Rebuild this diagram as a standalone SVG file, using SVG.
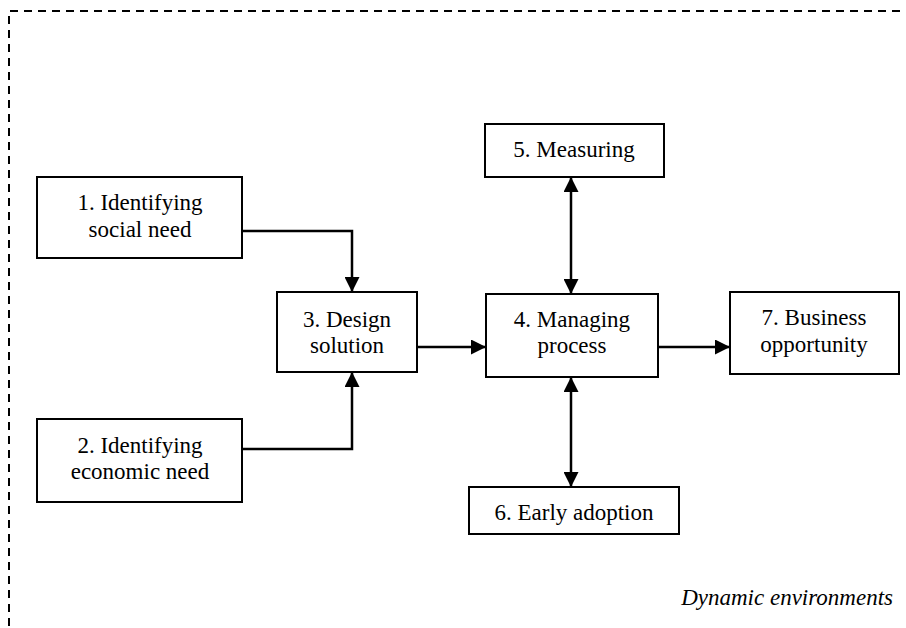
<svg xmlns="http://www.w3.org/2000/svg" width="906" height="628" viewBox="0 0 906 628">
<style>
.box{fill:#fff;stroke:#000;stroke-width:2}
.t{font-family:"Liberation Serif","Times New Roman",serif;font-size:23px;fill:#000;text-anchor:middle}
.c{fill:none;stroke:#000;stroke-width:2.5}
.frame{fill:none;stroke:#000;stroke-width:2;stroke-dasharray:8 6}
</style>
<defs>
<marker id="ah" markerUnits="userSpaceOnUse" markerWidth="15" markerHeight="15" refX="14" refY="7.5" orient="auto-start-reverse" viewBox="0 0 15 15">
<path d="M0,0 L15,7.5 L0,15 z" fill="#000"/>
</marker>
</defs>
<path class="frame" d="M900,11 H9 V628"/>
<g id="connectors">
<path class="c" d="M242,231 H352 V291" marker-end="url(#ah)"/>
<path class="c" d="M242,449 H352 V373" marker-end="url(#ah)"/>
<path class="c" d="M417,347 H485" marker-end="url(#ah)"/>
<path class="c" d="M658,347 H729" marker-end="url(#ah)"/>
<path class="c" d="M571,178 V293" marker-start="url(#ah)" marker-end="url(#ah)"/>
<path class="c" d="M571,378 V486" marker-start="url(#ah)" marker-end="url(#ah)"/>
</g>
<g id="n1"><rect class="box" x="37" y="177" width="205" height="81"/><text class="t" x="140" y="210">1. Identifying</text><text class="t" x="140" y="237">social need</text></g>
<g id="n2"><rect class="box" x="37" y="419" width="205" height="83"/><text class="t" x="140" y="453">2. Identifying</text><text class="t" x="140" y="479">economic need</text></g>
<g id="n3"><rect class="box" x="277" y="292" width="140" height="80"/><text class="t" x="347" y="327">3. Design</text><text class="t" x="347" y="353">solution</text></g>
<g id="n4"><rect class="box" x="486" y="294" width="172" height="83"/><text class="t" x="572" y="327">4. Managing</text><text class="t" x="572" y="353">process</text></g>
<g id="n5"><rect class="box" x="485" y="124" width="179" height="53"/><text class="t" x="574" y="157">5. Measuring</text></g>
<g id="n6"><rect class="box" x="469" y="487" width="210" height="47"/><text class="t" x="574" y="520">6. Early adoption</text></g>
<g id="n7"><rect class="box" x="730" y="292" width="169" height="82"/><text class="t" x="814" y="325">7. Business</text><text class="t" x="814" y="352">opportunity</text></g>
<text class="t" x="893" y="605" style="text-anchor:end;font-style:italic">Dynamic environments</text>
</svg>
